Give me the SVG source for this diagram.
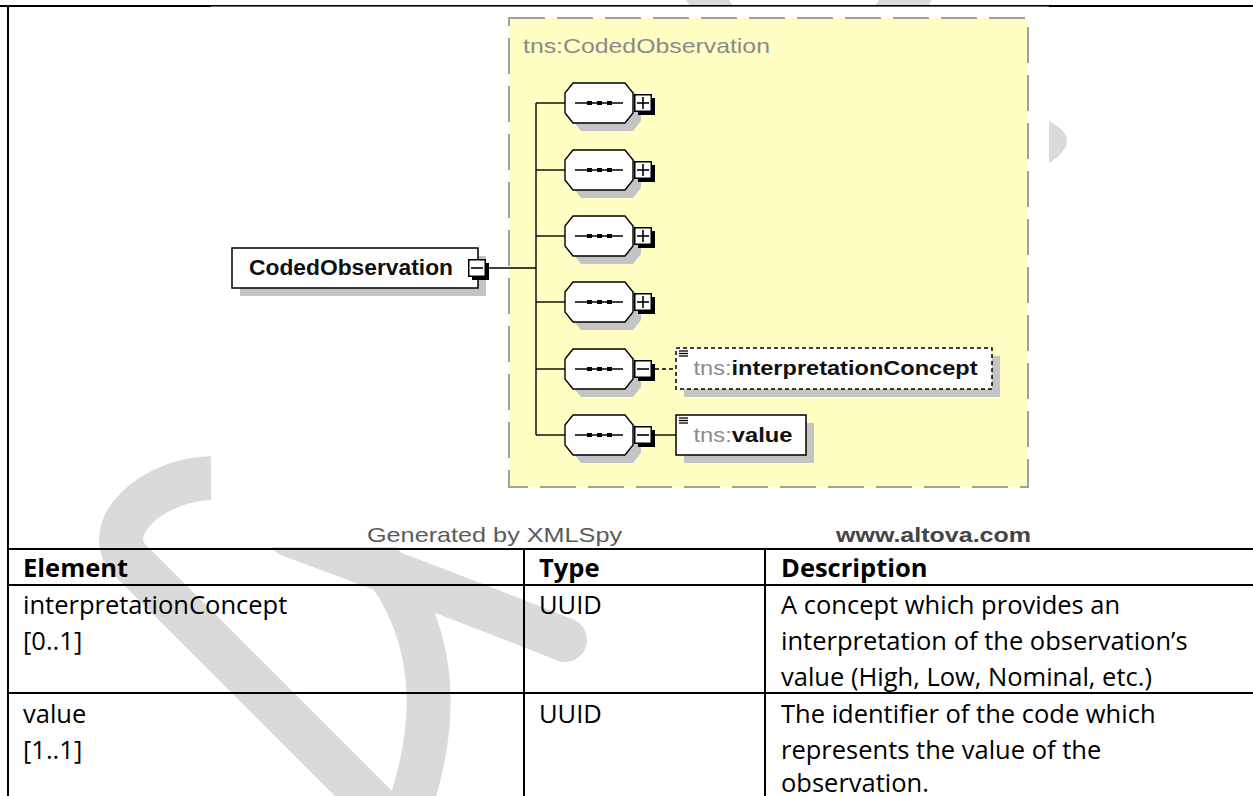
<svg xmlns="http://www.w3.org/2000/svg" width="1253" height="796" viewBox="0 0 1253 796">
<style>
  .wm { fill: none; stroke: #DADADA; stroke-width: 44; }
  .wmf { fill: #DADADA; }
  .rule { stroke: #000; stroke-width: 2; }
  .cell { font-family: "Open Sans", "Liberation Sans", sans-serif; font-size: 25.5px; fill: #000; }
  .hdr { font-weight: bold; }
  .shadow { fill: #C4C4C4; }
  .box { fill: #fff; stroke: #000; stroke-width: 1.5; }
  .dbox { fill: #fff; stroke: #000; stroke-width: 1.5; stroke-dasharray: 4 3; }
  .oct { fill: #fff; stroke: #000; stroke-width: 1.4; }
  .wire { stroke: #000; stroke-width: 1.4; fill: none; }
  .el { font-family: "Liberation Sans", Arial, sans-serif; font-size: 20px; font-weight: bold; fill: #111; }
  .ns { font-weight: normal; fill: #8C8C8C; }
  .caption { font-family: "Liberation Sans", Arial, sans-serif; font-size: 21px; fill: #5A5A5A; }
  .sign { stroke: #000; stroke-width: 1.6; }
</style>
<defs>
  <!-- sequence compositor: octagon with shadow, origin at left tip -->
  <g id="seq">
    <polygon class="shadow" points="16,-12 68,-12 76,-2 76,18 68,28 16,28 8,18 8,-2"/>
    <polygon class="oct" points="8,-20 60,-20 68,-10 68,10 60,20 8,20 0,10 0,-10"/>
    <line x1="10" y1="0" x2="58" y2="0" stroke="#000" stroke-width="1.4"/>
    <rect x="22" y="-2" width="5" height="4" fill="#000"/>
    <rect x="32" y="-2" width="5" height="4" fill="#000"/>
    <rect x="42" y="-2" width="5" height="4" fill="#000"/>
  </g>
  <!-- expand / collapse toggles -->
  <g id="tog">
    <rect x="4" y="4" width="17" height="17" fill="#000"/>
    <rect x="0.75" y="0.75" width="16.5" height="16.5" fill="#fff" stroke="#000" stroke-width="1.5"/>
  </g>
  <g id="plus">
    <use href="#tog"/>
    <line class="sign" x1="3" y1="9" x2="15" y2="9"/>
    <line class="sign" x1="9" y1="3" x2="9" y2="15"/>
  </g>
  <g id="minus">
    <use href="#tog"/>
    <line class="sign" x1="3" y1="9" x2="15" y2="9"/>
  </g>
  <!-- documentation marker -->
  <g id="doc" stroke="#000" stroke-width="1.3">
    <line x1="0" y1="0" x2="9" y2="0"/>
    <line x1="0" y1="2.5" x2="9" y2="2.5"/>
    <line x1="0" y1="5" x2="9" y2="5"/>
  </g>
</defs>

<rect width="1253" height="796" fill="#fff"/>

<!-- watermark strokes -->
<g id="watermark">
  <path class="wm" d="M 215 478 C 150 478, 100 530, 130 560 L 430 860"/>
  <path class="wm" d="M 350 530 C 430 600, 450 700, 405 820"/>
  <path class="wm" stroke-linecap="round" d="M 290 535 Q 440 590 565 640"/>
  <path class="wmf" d="M 1049 121 C 1062 128 1070 136 1066 146 C 1062 154 1056 159 1049 163 Z"/>
  <path class="wmf" d="M 686 0 L 729 0 L 733 6 L 690 6 Z"/>
  <path class="wmf" d="M 879 0 L 932 0 L 928 6 L 875 6 Z"/>
</g>

<!-- page frame -->
<line class="rule" x1="0" y1="6" x2="1253" y2="6"/>
<rect x="211" y="6.6" width="838" height="540.4" fill="#fff"/>
<line class="rule" x1="8" y1="5" x2="8" y2="796"/>

<!-- schema diagram -->
<g id="diagram">
  <rect x="509" y="18" width="519" height="469" fill="#FFFFC4" stroke="#A0A0A0" stroke-width="2" stroke-dasharray="36 12"/>
  <text class="caption" x="523" y="52.5" style="fill:#8A8A8A" textLength="247" lengthAdjust="spacingAndGlyphs">tns:CodedObservation</text>

  <g id="connectors">
    <line class="wire" x1="489" y1="268" x2="536" y2="268"/>
    <line class="wire" x1="536" y1="103" x2="536" y2="435"/>
    <line class="wire" x1="536" y1="103" x2="565" y2="103"/>
    <line class="wire" x1="536" y1="170" x2="565" y2="170"/>
    <line class="wire" x1="536" y1="236" x2="565" y2="236"/>
    <line class="wire" x1="536" y1="302" x2="565" y2="302"/>
    <line class="wire" x1="536" y1="369" x2="565" y2="369"/>
    <line class="wire" x1="536" y1="435" x2="565" y2="435"/>
    <line class="wire" x1="655" y1="369" x2="676" y2="369" stroke-dasharray="4 3"/>
    <line class="wire" x1="655" y1="435" x2="676" y2="435"/>
  </g>

  <g id="node-codedobservation">
    <rect class="shadow" x="240" y="256" width="246" height="40"/>
    <rect class="box" x="232" y="248" width="246" height="40"/>
    <text class="el" x="249" y="275" style="font-size:22px" textLength="204" lengthAdjust="spacingAndGlyphs">CodedObservation</text>
    <use href="#minus" x="468" y="259"/>
  </g>

  <g id="seq-1"><use href="#seq" x="565" y="103"/><use href="#plus" x="634" y="94"/></g>
  <g id="seq-2"><use href="#seq" x="565" y="170"/><use href="#plus" x="634" y="161"/></g>
  <g id="seq-3"><use href="#seq" x="565" y="236"/><use href="#plus" x="634" y="227"/></g>
  <g id="seq-4"><use href="#seq" x="565" y="302"/><use href="#plus" x="634" y="293"/></g>
  <g id="seq-5"><use href="#seq" x="565" y="369"/><use href="#minus" x="634" y="360"/></g>
  <g id="seq-6"><use href="#seq" x="565" y="435"/><use href="#minus" x="634" y="426"/></g>

  <g id="node-interpretationconcept">
    <rect class="shadow" x="684" y="356" width="316" height="41"/>
    <rect class="dbox" x="676" y="348" width="316" height="41"/>
    <use href="#doc" x="679" y="351"/>
    <text class="el" x="693.5" y="375" textLength="284" lengthAdjust="spacingAndGlyphs"><tspan class="ns">tns:</tspan>interpretationConcept</text>
  </g>

  <g id="node-value">
    <rect class="shadow" x="684" y="423" width="130" height="40"/>
    <rect class="box" x="676" y="415" width="130" height="40"/>
    <use href="#doc" x="679" y="418"/>
    <text class="el" x="693.5" y="442" textLength="99" lengthAdjust="spacingAndGlyphs"><tspan class="ns">tns:</tspan>value</text>
  </g>

  <text class="caption" x="367" y="542" textLength="255" lengthAdjust="spacingAndGlyphs">Generated by XMLSpy</text>
  <text class="caption" x="836" y="542" font-weight="bold" style="fill:#444" textLength="195" lengthAdjust="spacingAndGlyphs">www.altova.com</text>
</g>

<!-- element table -->
<g id="table">
  <line class="rule" x1="7" y1="549" x2="1253" y2="549"/>
  <line class="rule" x1="7" y1="585" x2="1253" y2="585"/>
  <line class="rule" x1="7" y1="693" x2="1253" y2="693"/>
  <line class="rule" x1="524" y1="548" x2="524" y2="796"/>
  <line class="rule" x1="765" y1="548" x2="765" y2="796"/>

  <text class="cell hdr" x="23" y="577">Element</text>
  <text class="cell hdr" x="539" y="577">Type</text>
  <text class="cell hdr" x="781" y="577">Description</text>

  <text class="cell" x="23" y="614">interpretationConcept</text>
  <text class="cell" x="23" y="650">[0..1]</text>
  <text class="cell" x="539" y="614">UUID</text>
  <text class="cell" x="781" y="614">A concept which provides an</text>
  <text class="cell" x="781" y="650">interpretation of the observation’s</text>
  <text class="cell" x="781" y="686">value (High, Low, Nominal, etc.)</text>

  <text class="cell" x="23" y="723">value</text>
  <text class="cell" x="23" y="759">[1..1]</text>
  <text class="cell" x="539" y="723">UUID</text>
  <text class="cell" x="781" y="723">The identifier of the code which</text>
  <text class="cell" x="781" y="759">represents the value of the</text>
  <text class="cell" x="781" y="792">observation.</text>
</g>
</svg>
